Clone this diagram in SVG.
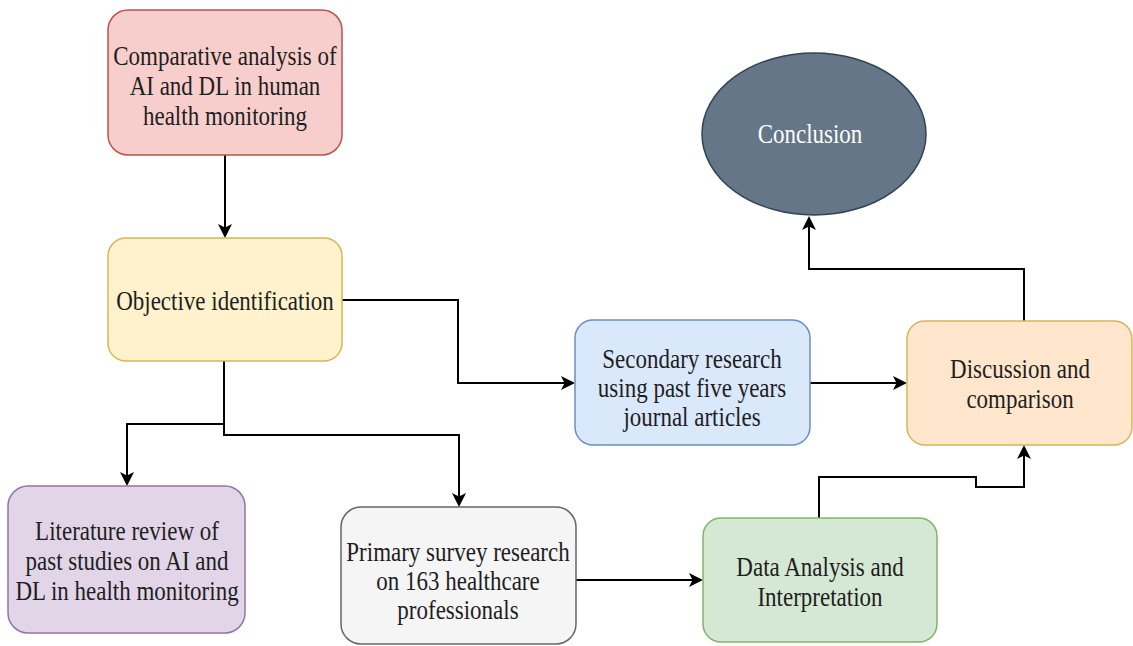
<svg xmlns="http://www.w3.org/2000/svg" width="1133" height="646" viewBox="0 0 1133 646">
<style>
.t{font-family:"Liberation Serif","Times New Roman",serif;font-size:23px;fill:#1e1e1e;text-anchor:middle;dominant-baseline:central}
.w{fill:#ffffff}
.box{stroke-width:1.5}
.c{fill:none;stroke:#000;stroke-width:2;marker-end:url(#arr)}
</style>
<defs>
<marker id="arr" markerUnits="userSpaceOnUse" markerWidth="15" markerHeight="15" refX="4" refY="7.5" orient="auto">
<path d="M0,0.5 L14,7.5 L0,14.5 L3.5,7.5 z" fill="#000"/>
</marker>
</defs>
<rect width="1133" height="646" fill="#ffffff"/>
<g id="connectors">
<path class="c" d="M225,155 V228"/>
<path class="c" d="M342,300 H458 V383 H565"/>
<path class="c" d="M224,361 V424 H127 V476"/>
<path class="c" d="M224,424 V435 H459 V497"/>
<path class="c" d="M810,383 H897"/>
<path class="c" d="M576,580 H693"/>
<path class="c" d="M819,518 V477 H976 V487 H1024 V455"/>
<path class="c" d="M1024,321 V269 H809 V226"/>
</g>
<g id="n1">
<rect class="box" x="108" y="10" width="234" height="145" rx="20" fill="#f8cecc" stroke="#b85450"/>
<text class="t" transform="translate(225,85) scale(1,1.22)"><tspan x="0" y="-24.6">Comparative analysis of</tspan><tspan x="0" y="0">AI and DL in human</tspan><tspan x="0" y="24.6">health monitoring</tspan></text>
</g>
<g id="n2">
<rect class="box" x="108" y="238" width="234" height="123" rx="18" fill="#fff2cc" stroke="#d6b656"/>
<text class="t" transform="translate(225,300) scale(1,1.22)"><tspan x="0" y="0">Objective identification</tspan></text>
</g>
<g id="n3">
<rect class="box" x="8" y="486" width="237" height="147" rx="20" fill="#e1d5e7" stroke="#9673a6"/>
<text class="t" transform="translate(127,560) scale(1,1.22)"><tspan x="0" y="-24.6">Literature review of</tspan><tspan x="0" y="0">past studies on AI and</tspan><tspan x="0" y="24.6">DL in health monitoring</tspan></text>
</g>
<g id="n4">
<rect class="box" x="341" y="507" width="235" height="137" rx="20" fill="#f5f5f5" stroke="#666666"/>
<text class="t" transform="translate(458,580) scale(1,1.22)"><tspan x="0" y="-23.8">Primary survey research</tspan><tspan x="0" y="0">on 163 healthcare</tspan><tspan x="0" y="23.8">professionals</tspan></text>
</g>
<g id="n5">
<rect class="box" x="703" y="518" width="234" height="124" rx="18" fill="#d5e8d4" stroke="#82b366"/>
<text class="t" transform="translate(820,581) scale(1,1.22)"><tspan x="0" y="-12.5">Data Analysis and</tspan><tspan x="0" y="12.5">Interpretation</tspan></text>
</g>
<g id="n6">
<rect class="box" x="575" y="320" width="235" height="125" rx="18" fill="#dae8fc" stroke="#6c8ebf"/>
<text class="t" transform="translate(692,387) scale(1,1.22)"><tspan x="0" y="-24">Secondary research</tspan><tspan x="0" y="0">using past five years</tspan><tspan x="0" y="24">journal articles</tspan></text>
</g>
<g id="n7">
<rect class="box" x="907" y="321" width="225" height="124" rx="18" fill="#ffe6cc" stroke="#d6b656"/>
<text class="t" transform="translate(1020,383) scale(1,1.22)"><tspan x="0" y="-12.3">Discussion and</tspan><tspan x="0" y="12.3">comparison</tspan></text>
</g>
<g id="n8">
<ellipse class="box" cx="814" cy="134" rx="112" ry="81" fill="#647687" stroke="#314354"/>
<text class="t w" transform="translate(810,133) scale(1,1.22)"><tspan x="0" y="0">Conclusion</tspan></text>
</g>
</svg>
